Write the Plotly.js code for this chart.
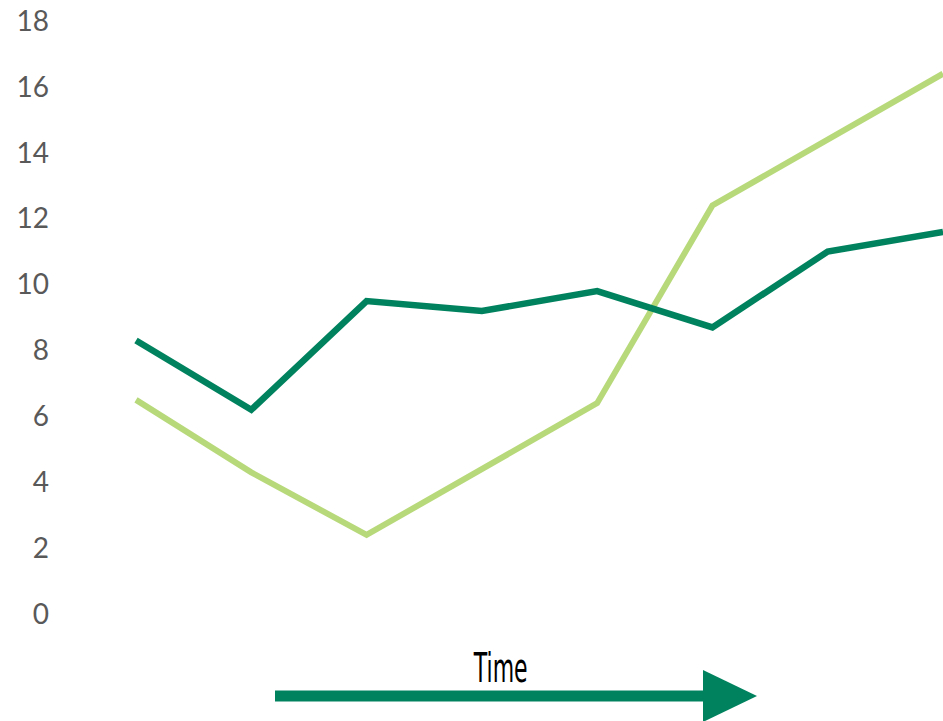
<!DOCTYPE html>
<html>
<head>
<meta charset="utf-8">
<script src="https://cdn.plot.ly/plotly-3.0.1.min.js"></script>
<style>html,body{margin:0;padding:0;background:#fff;}#chart{width:943px;height:721px;}</style>
</head>
<body>
<div id="chart"></div>
<script>
// Data
var periods = [1, 2, 3, 4, 5, 6, 7, 8];
var seriesDark = [8.3, 6.2, 9.5, 9.2, 9.8, 8.7, 11.0, 11.6];
var seriesLight = [6.5, 4.3, 2.4, 4.4, 6.4, 12.4, 14.4, 16.4];
var yTicks = [0, 2, 4, 6, 8, 10, 12, 14, 16, 18];
var arrowLabel = "Time";

var W = 943, H = 721;
var M = {l: 70, r: 0, t: 21, b: 107};
var pw = W - M.l - M.r, ph = H - M.t - M.b;
function px(x) { return (x - M.l) / pw; }
function py(y) { return (H - M.b - y) / ph; }

var xs = periods.map(function (p, i) { return i; });

var traces = [
  {x: xs, y: seriesLight, type: 'scatter', mode: 'lines', name: 'Series 2',
   line: {color: '#B8D97A', width: 6}, hoverinfo: 'y'},
  {x: xs, y: seriesDark, type: 'scatter', mode: 'lines', name: 'Series 1',
   line: {color: '#00825F', width: 6.5}, hoverinfo: 'y'}
];

var layout = {
  width: W, height: H,
  margin: M,
  paper_bgcolor: '#ffffff', plot_bgcolor: '#ffffff',
  showlegend: false,
  xaxis: {range: [-66 / ((pw - 66) / 7), 7], showgrid: false, zeroline: false,
          showticklabels: false, showline: false, ticks: ''},
  yaxis: {range: [0, 18], tickvals: yTicks, ticktext: yTicks.map(String),
          showgrid: false, zeroline: false, showline: false, ticks: '',
          ticklabelstandoff: 20,
          tickfont: {family: 'Lato, "Noto Sans", sans-serif', size: 28, color: '#595959'}},
  shapes: [
    {type: 'line', xref: 'paper', yref: 'paper', x0: px(275), x1: px(706), y0: py(696), y1: py(696),
     line: {color: '#00825F', width: 11}, layer: 'above'},
    {type: 'path', xref: 'paper', yref: 'paper',
     path: 'M ' + px(703) + ' ' + py(670) + ' L ' + px(757) + ' ' + py(696) + ' L ' + px(703) + ' ' + py(722) + ' Z',
     fillcolor: '#00825F', line: {width: 0}, layer: 'above'}
  ],
  annotations: [
    {text: arrowLabel, xref: 'paper', yref: 'paper', x: px(500), y: py(668),
     xanchor: 'center', yanchor: 'middle', showarrow: false,
     font: {family: '"DejaVu Sans", sans-serif', size: 40, color: '#000000'}}
  ]
};

Plotly.newPlot('chart', traces, layout, {displayModeBar: false, staticPlot: true}).then(function () {
  // condense the label horizontally to mimic the narrow display face
  var t = document.querySelector('#chart .annotation-text');
  if (t) {
    var bb = t.getBBox();
    var cx = bb.x + bb.width / 2;
    t.setAttribute('transform', 'translate(' + cx + ',0) scale(0.55,1) translate(' + (-cx) + ',0)');
  }
});
</script>
</body>
</html>
